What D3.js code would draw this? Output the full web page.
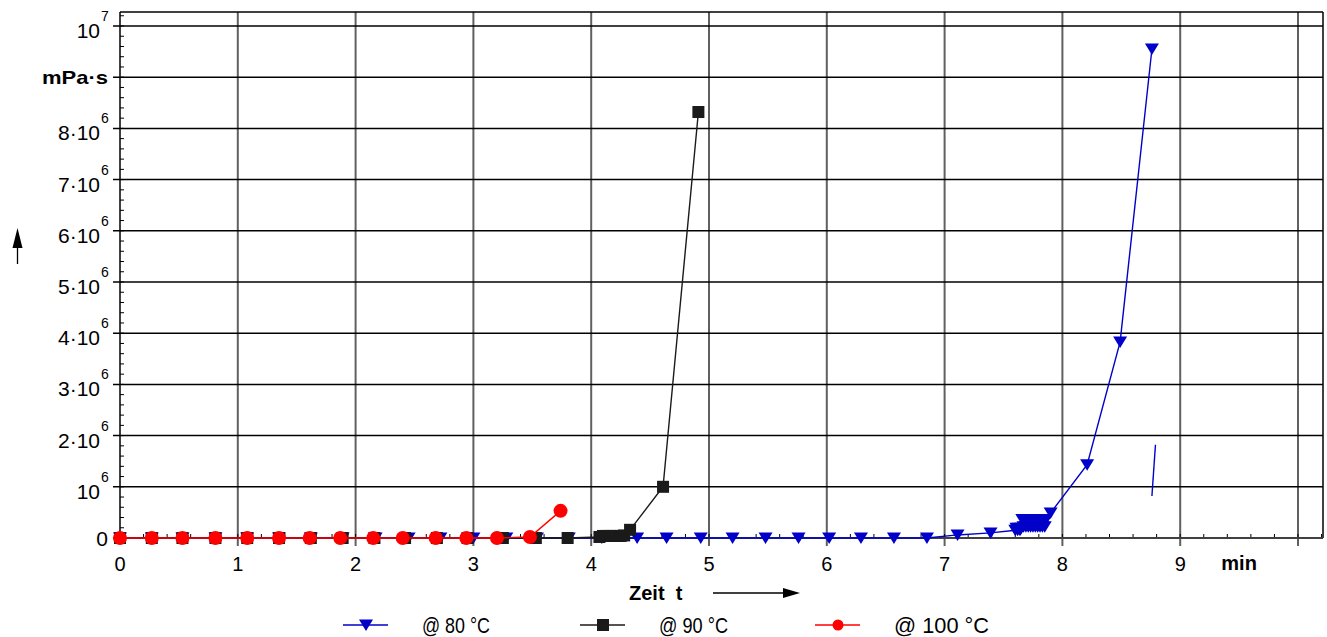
<!DOCTYPE html>
<html><head><meta charset="utf-8">
<script src="https://cdn.jsdelivr.net/npm/d3@7"></script>
<style>body{margin:0;background:#fff}svg{display:block}text{font-family:"Liberation Sans",Arial,sans-serif}</style>
</head><body><svg id="c" width="1327" height="637"></svg>
<script>
// ---- data (time in min, viscosity in mPa·s) ----
const t80 = [0,0.27,0.53,0.81,1.08,1.35,1.62,1.89,2.17,2.45,2.72,3.0,3.28,3.54,3.81,4.09,4.39,4.64,4.93,5.2,5.48,5.76,6.02,6.29,6.57,6.85,7.11,7.39,7.60,7.61,7.62,7.63,7.64,7.65,7.66,7.67,7.68,7.69,7.70,7.71,7.72,7.73,7.74,7.75,7.76,7.77,7.78,7.79,7.80,7.81,7.82,7.83,7.84,7.85,7.86,7.90,8.21,8.49,8.76];
const v80 = [0,0,0,0,0,0,0,0,0,0,0,0,0,0,0,0,0,0,0,0,0,0,0,0,0,0,0.06e6,0.10e6,0.15e6,0.19e6,0.15e6,0.19e6,0.15e6,0.19e6,0.36e6,0.22e6,0.36e6,0.22e6,0.36e6,0.22e6,0.36e6,0.22e6,0.36e6,0.22e6,0.36e6,0.22e6,0.36e6,0.22e6,0.36e6,0.22e6,0.36e6,0.22e6,0.36e6,0.22e6,0.36e6,0.49e6,1.43e6,3.83e6,9.55e6];
const t80stray = [8.79,8.76];
const v80stray = [1.82e6,0.82e6];
const t90 = [0,0.27,0.53,0.81,1.08,1.35,1.62,1.89,2.16,2.42,2.69,2.95,3.25,3.53,3.80,4.07,4.10,4.13,4.16,4.19,4.22,4.25,4.28,4.33,4.61,4.91];
const v90 = [0,0,0,0,0,0,0,0,0,0,0,0,0,0,0,0.02e6,0.04e6,0.04e6,0.04e6,0.04e6,0.04e6,0.04e6,0.05e6,0.16e6,1.0e6,8.32e6];
const t100 = [0,0.27,0.53,0.81,1.08,1.35,1.61,1.87,2.15,2.40,2.68,2.94,3.20,3.48,3.74];
const v100 = [0,0,0,0,0,0,0,0,0,0,0,0,0,0.02e6,0.53e6];
const xTickLabels = ["0","1","2","3","4","5","6","7","8","9"];
const yTickValues = [0,1e6,2e6,3e6,4e6,5e6,6e6,7e6,8e6,9e6,1e7];
const yTickBases = ["0","10","2·10","3·10","4·10","5·10","6·10","7·10","8·10","mPa·s","10"];
const yTickExps  = ["","6","6","6","6","6","6","6","6","","7"];
const seriesNames = ["@ 80 °C","@ 90 °C","@ 100 °C"];
const seriesColors = ["#0000c8","#1a1a1a","#ff0000"];

const svg = d3.select("#c");
const x = d3.scaleLinear().domain([0,10]).range([120,1298]);
const y = d3.scaleLinear().domain([0,1e7]).range([538,26]);
const xRight = 1323, yTop = 12;

// vertical grid
const g = svg.append("g");
g.selectAll(".vg").data(d3.range(1,11)).join("line")
  .attr("x1",d=>x(d)).attr("x2",d=>x(d)).attr("y1",yTop).attr("y2",546)
  .attr("stroke","#606060").attr("stroke-width",2);
// horizontal grid
g.selectAll(".hg").data(yTickValues.slice(1)).join("line")
  .attr("x1",113).attr("x2",xRight).attr("y1",d=>y(d)).attr("y2",d=>y(d))
  .attr("stroke","#000").attr("stroke-width",1.5);
// minor ticks y
const yMinor = d3.range(0,10.3e6,2e5).filter(v=>y(v)>=yTop);
g.selectAll(".ym").data(yMinor).join("line")
  .attr("x1",120).attr("x2",124).attr("y1",d=>y(d)).attr("y2",d=>y(d))
  .attr("stroke","#000").attr("stroke-width",1);
// minor ticks x
const xMinor = d3.range(0,10.25,0.2).filter(v=>x(v)<=xRight);
g.selectAll(".xm").data(xMinor).join("line")
  .attr("x1",d=>x(d)).attr("x2",d=>x(d)).attr("y1",538).attr("y2",534)
  .attr("stroke","#000").attr("stroke-width",1);
// frame
g.append("line").attr("x1",120).attr("x2",xRight).attr("y1",yTop).attr("y2",yTop).attr("stroke","#000").attr("stroke-width",1.5);
g.append("line").attr("x1",xRight).attr("x2",xRight).attr("y1",yTop).attr("y2",538).attr("stroke","#000").attr("stroke-width",1.5);
g.append("line").attr("x1",120).attr("x2",120).attr("y1",yTop).attr("y2",539).attr("stroke","#000").attr("stroke-width",1.5);
g.append("line").attr("x1",113).attr("x2",xRight).attr("y1",538).attr("y2",538).attr("stroke","#404040").attr("stroke-width",2);

// y labels
yTickValues.forEach((v,i)=>{
  const cy = y(v);
  const bold = yTickBases[i]==="mPa·s";
  const t = svg.append("text").attr("x", bold?108:100).attr("y", cy + (yTickExps[i]?12:(bold?7:7.5)))
    .attr("text-anchor","end").attr("font-size", bold?19:21).attr("font-weight", bold?"bold":"normal")
    .attr("fill","#000").text(yTickBases[i]);
  if (bold) t.attr("textLength",66).attr("lengthAdjust","spacingAndGlyphs");
  if (i===0) t.attr("x",108);
  if (yTickExps[i]) svg.append("text").attr("x",101).attr("y",cy-5).attr("font-size",14).text(yTickExps[i]);
});
// x labels
xTickLabels.forEach((s,i)=>{
  svg.append("text").attr("x",x(+s)).attr("y",571).attr("text-anchor","middle").attr("font-size",20).text(s);
});
svg.append("text").attr("x",x(9.5)).attr("y",570).attr("text-anchor","middle").attr("font-size",20).attr("font-weight","bold").text("min");
svg.append("text").attr("x",629).attr("y",600).attr("font-size",20).attr("font-weight","bold").attr("xml:space","preserve").text("Zeit  t");
// arrows
svg.append("line").attr("x1",713).attr("x2",788).attr("y1",593).attr("y2",593).attr("stroke","#000").attr("stroke-width",1.3);
svg.append("path").attr("d","M800,593 L783,588 L783,598 Z").attr("fill","#000");
svg.append("line").attr("x1",17.5).attr("x2",17.5).attr("y1",264).attr("y2",242).attr("stroke","#000").attr("stroke-width",1.3);
svg.append("path").attr("d","M17.5,228 L12.5,248 L22.5,248 Z").attr("fill","#000");

// series
const line = d3.line().x(d=>x(d[0])).y(d=>y(d[1]));
const tri = "M-7,-5.5 L7,-5.5 L0,6 Z";
function drawSeries(ts, vs, color, marker){
  const pts = ts.map((t,i)=>[t,vs[i]]);
  const sg = svg.append("g");
  sg.append("path").datum(pts).attr("d",line).attr("fill","none").attr("stroke",color).attr("stroke-width",1.4);
  const m = sg.selectAll(".m").data(pts).join("g").attr("transform",d=>`translate(${x(d[0])},${y(d[1])})`);
  marker(m, color);
}
const markTri = (m,c)=>m.append("path").attr("d",tri).attr("fill",c);
const markSq = (m,c)=>m.append("rect").attr("x",-6).attr("y",-6).attr("width",12).attr("height",12).attr("fill",c);
const markCirc = (m,c)=>m.append("circle").attr("r",7).attr("fill",c);
drawSeries(t80, v80, seriesColors[0], markTri);
svg.append("path").datum(t80stray.map((t,i)=>[t,v80stray[i]])).attr("d",line).attr("fill","none").attr("stroke",seriesColors[0]).attr("stroke-width",1.4);
drawSeries(t90, v90, seriesColors[1], markSq);
drawSeries(t100, v100, seriesColors[2], markCirc);

// legend
const legX = [343,580,815];
const legW = [68,69,95];
const legMarkers = [markTri, markSq, (m,c)=>m.append("circle").attr("r",5.5).attr("fill",c)];
seriesNames.forEach((n,i)=>{
  const lg = svg.append("g");
  lg.append("line").attr("x1",legX[i]).attr("x2",legX[i]+45).attr("y1",625).attr("y2",625).attr("stroke",seriesColors[i]).attr("stroke-width",1.4);
  const m = lg.append("g").attr("transform",`translate(${legX[i]+23},625)`);
  legMarkers[i](m, seriesColors[i]);
  lg.append("text").attr("x",legX[i]+79).attr("y",633).attr("font-size",22)
    .attr("textLength",legW[i]).attr("lengthAdjust","spacingAndGlyphs").text(n);
});
</script></body></html>
